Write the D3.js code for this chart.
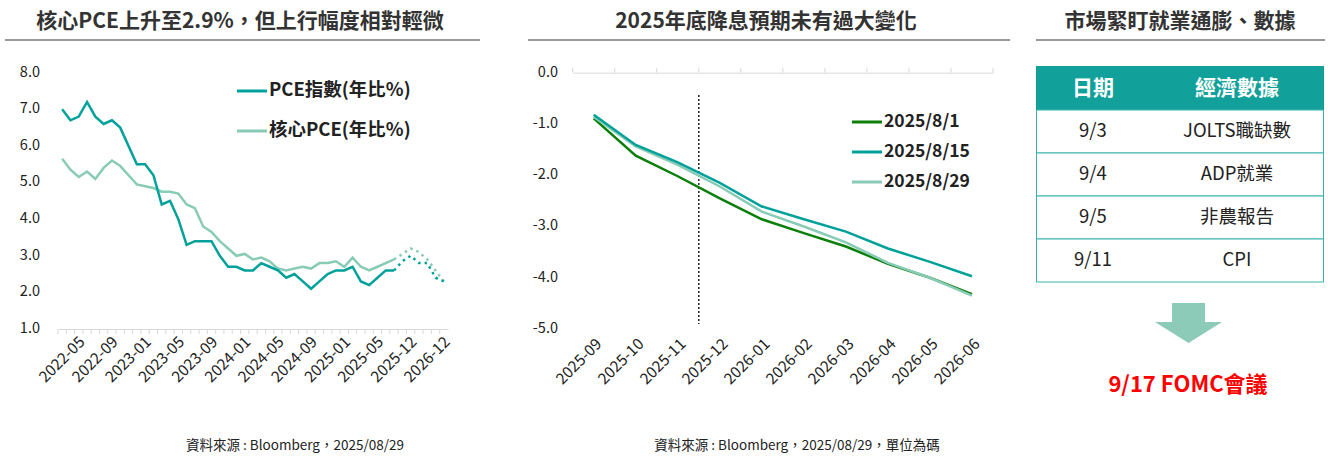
<!DOCTYPE html>
<html><head><meta charset="utf-8">
<script src="https://cdn.jsdelivr.net/npm/d3@7"></script>
<style>body{margin:0;background:#fff;font-family:"Noto Sans CJK TC","Open Sans",sans-serif}</style>
</head><body><svg id="c" width="1328" height="457"></svg>
<script>
// ---- left chart data
const pceActual = [7.0,6.7,6.8,7.2,6.8,6.6,6.7,6.5,6.0,5.5,5.5,5.2,4.4,4.5,4.0,3.3,3.4,3.4,3.4,3.0,2.7,2.7,2.6,2.6,2.8,2.7,2.6,2.4,2.5,2.3,2.1,2.3,2.5,2.6,2.6,2.7,2.3,2.2,2.4,2.6,2.6];
const pceForecast = [2.6,2.85,3.0,2.8,2.8,2.4,2.3];
const coreActual = [5.65,5.35,5.15,5.3,5.1,5.4,5.6,5.45,5.2,4.95,4.9,4.85,4.75,4.75,4.7,4.4,4.3,3.8,3.65,3.4,3.2,3.0,3.05,2.9,2.95,2.85,2.65,2.6,2.65,2.7,2.65,2.8,2.8,2.85,2.7,2.95,2.7,2.6,2.7,2.8,2.9];
const coreForecast = [2.9,3.05,3.2,3.1,2.9,2.6,2.3];
const leftTickIdx = [2,6,10,14,18,22,26,30,34,38,42,46];
const leftTickLabels = ["2022-05","2022-09","2023-01","2023-05","2023-09","2024-01","2024-05","2024-09","2025-01","2025-05","2025-12","2026-12"];
const leftYTicks = [1,2,3,4,5,6,7,8];

// ---- middle chart data
const months = ["2025-09","2025-10","2025-11","2025-12","2026-01","2026-02","2026-03","2026-04","2026-05","2026-06"];
const s0801 = [-0.89,-1.62,-2.02,-2.45,-2.86,-3.13,-3.39,-3.73,-4.0,-4.32];
const s0815 = [-0.82,-1.41,-1.75,-2.15,-2.61,-2.86,-3.1,-3.43,-3.69,-3.97];
const s0829 = [-0.86,-1.44,-1.8,-2.22,-2.71,-3.0,-3.31,-3.71,-4.0,-4.35];
const midYTicks = [0,-1,-2,-3,-4,-5];

// ---- table
const dates = ["9/3","9/4","9/5","9/11"];
const events = ["JOLTS職缺數","ADP就業","非農報告","CPI"];

const svg = d3.select("#c");
const dark = "#00A19A", light = "#88CBB6", green = "#0A7F0A", txt = "#222";

function title(x1, x2, cx, t){
  svg.append("text").attr("x",cx).attr("y",28).attr("text-anchor","middle")
    .attr("font-size",21).attr("font-weight","bold").attr("fill","#333").text(t);
  svg.append("line").attr("x1",x1).attr("x2",x2).attr("y1",40).attr("y2",40).attr("stroke","#333").attr("stroke-width",1);
}
title(5,480,240,"核心PCE上升至2.9%，但上行幅度相對輕微");
title(528,1010,766,"2025年底降息預期未有過大變化");
title(1036,1325,1180,"市場緊盯就業通膨、數據");

// ---- left chart
{
  const n = pceActual.length + pceForecast.length - 1;
  const x = d3.scaleBand().domain(d3.range(n)).range([58,448]);
  const cx = i => x(i) + x.bandwidth()/2;
  const y = d3.scaleLinear().domain([1,8]).range([329,72.7]);
  const g = svg.append("g");
  const ax = g.append("g").attr("transform","translate(0,329)")
    .call(d3.axisBottom(x).tickValues(d3.range(n)).tickFormat("").tickSize(5).tickSizeOuter(0));
  ax.selectAll("line,path").attr("stroke","#d9d9d9");
  ax.selectAll(".tick line").attr("transform",`translate(${-x.bandwidth()/2},0)`);
  g.selectAll(".xl").data(leftTickIdx).join("text")
    .attr("transform",d=>`translate(${cx(d)+4},${340}) rotate(-45)`)
    .attr("text-anchor","end").attr("dominant-baseline","middle")
    .attr("font-size",15.5).attr("fill",txt)
    .text((d,i)=>leftTickLabels[i]);
  g.selectAll(".yl").data(leftYTicks).join("text")
    .attr("x",40).attr("y",d=>y(d)).attr("text-anchor","end").attr("dominant-baseline","middle")
    .attr("font-size",14.5).attr("fill",txt).text(d=>d.toFixed(1));
  const line = d3.line().x(d=>cx(d[0])).y(d=>y(d[1]));
  const off = pceActual.length - 1;
  g.append("path").attr("d",line(coreActual.map((v,i)=>[i,v]))).attr("fill","none").attr("stroke",light).attr("stroke-width",2.5);
  g.append("path").attr("d",line(pceActual.map((v,i)=>[i,v]))).attr("fill","none").attr("stroke",dark).attr("stroke-width",2.5);
  g.append("path").attr("d",line(coreForecast.map((v,i)=>[i+off,v]))).attr("fill","none").attr("stroke",light).attr("stroke-width",2.5).attr("stroke-dasharray","2.5,4");
  g.append("path").attr("d",line(pceForecast.map((v,i)=>[i+off,v]))).attr("fill","none").attr("stroke",dark).attr("stroke-width",2.5).attr("stroke-dasharray","2.5,4");
  [["PCE指數(年比%)",dark,91],["核心PCE(年比%)",light,131]].forEach(([t,c,yy])=>{
    g.append("line").attr("x1",237).attr("x2",267).attr("y1",yy).attr("y2",yy).attr("stroke",c).attr("stroke-width",3);
    g.append("text").attr("x",269).attr("y",yy).attr("dominant-baseline","middle").attr("font-size",18.5).attr("font-weight","bold").attr("fill",txt).text(t);
  });
  svg.append("text").attr("x",295).attr("y",450).attr("text-anchor","middle").attr("font-size",13.5).attr("fill",txt).text("資料來源 : Bloomberg，2025/08/29");
}

// ---- middle chart
{
  const x = d3.scaleBand().domain(months).range([572.7,993]);
  const cx = m => x(m) + x.bandwidth()/2;
  const y = d3.scaleLinear().domain([-5,0]).range([329,72.7]);
  const g = svg.append("g");
  const ax = g.append("g").attr("transform","translate(0,72.7)")
    .call(d3.axisTop(x).tickFormat("").tickSize(5).tickSizeOuter(0));
  ax.selectAll("line,path").attr("stroke","#d9d9d9");
  ax.selectAll(".tick line").attr("transform",`translate(${-x.bandwidth()/2},0)`);
  ax.append("line").attr("x1",993).attr("x2",993).attr("y1",0).attr("y2",-5).attr("stroke","#d9d9d9");
  g.selectAll(".xl").data(months).join("text")
    .attr("transform",d=>`translate(${cx(d)+6},${342}) rotate(-45)`)
    .attr("text-anchor","end").attr("dominant-baseline","middle")
    .attr("font-size",15.5).attr("fill",txt).text(d=>d);
  g.selectAll(".yl").data(midYTicks).join("text")
    .attr("x",558).attr("y",d=>y(d)).attr("text-anchor","end").attr("dominant-baseline","middle")
    .attr("font-size",14.5).attr("fill",txt).text(d=>d.toFixed(1));
  const bx = x("2025-12");
  g.append("line").attr("x1",bx).attr("x2",bx).attr("y1",95).attr("y2",324).attr("stroke","#222").attr("stroke-width",1.5).attr("stroke-dasharray","2,2");
  const line = d3.line().x((d,i)=>cx(months[i])).y(d=>y(d));
  [[s0801,green],[s0829,light],[s0815,dark]].forEach(([s,c])=>
    g.append("path").attr("d",line(s)).attr("fill","none").attr("stroke",c).attr("stroke-width",2.5));
  [["2025/8/1",green,122],["2025/8/15",dark,152],["2025/8/29",light,182]].forEach(([t,c,yy])=>{
    g.append("line").attr("x1",852).attr("x2",882).attr("y1",yy).attr("y2",yy).attr("stroke",c).attr("stroke-width",3);
    g.append("text").attr("x",884).attr("y",yy).attr("dominant-baseline","middle").attr("font-size",17.5).attr("font-weight","bold").attr("fill",txt).text(t);
  });
  svg.append("text").attr("x",797).attr("y",450).attr("text-anchor","middle").attr("font-size",13.5).attr("fill",txt).text("資料來源 : Bloomberg，2025/08/29，單位為碼");
}

// ---- table panel
{
  const g = svg.append("g");
  const rowY = d3.scaleBand().domain(d3.range(dates.length)).range([110,282]);
  g.append("rect").attr("x",1036).attr("y",66).attr("width",288).attr("height",44).attr("fill","#12A19A");
  g.append("text").attr("x",1093).attr("y",89).attr("text-anchor","middle").attr("dominant-baseline","middle").attr("font-size",21).attr("font-weight","bold").attr("fill","#fff").text("日期");
  g.append("text").attr("x",1237).attr("y",89).attr("text-anchor","middle").attr("dominant-baseline","middle").attr("font-size",21).attr("font-weight","bold").attr("fill","#fff").text("經濟數據");
  dates.forEach((d,i)=>{
    g.append("rect").attr("x",1036.5).attr("y",rowY(i)).attr("width",287).attr("height",rowY.bandwidth()).attr("fill","#fff").attr("stroke","#3BB3AC").attr("stroke-width",1);
    g.append("text").attr("x",1093).attr("y",rowY(i)+rowY.bandwidth()/2).attr("text-anchor","middle").attr("dominant-baseline","middle").attr("font-size",18.5).attr("fill",txt).text(d);
    g.append("text").attr("x",1237).attr("y",rowY(i)+rowY.bandwidth()/2).attr("text-anchor","middle").attr("dominant-baseline","middle").attr("font-size",18.5).attr("fill",txt).text(events[i]);
  });
  g.append("path").attr("d","M1172,303H1205V322H1222L1188.5,343L1155,322H1172Z").attr("fill","#8CCBB8");
  g.append("text").attr("x",1188).attr("y",386).attr("text-anchor","middle").attr("dominant-baseline","middle").attr("font-size",22).attr("font-weight","bold").attr("fill","#FF0000").text("9/17 FOMC會議");
}
</script></body></html>
